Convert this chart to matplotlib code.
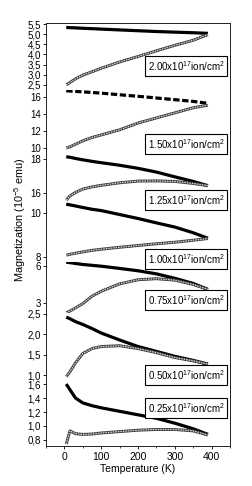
import matplotlib
matplotlib.use('Agg')
import matplotlib.pyplot as plt
from matplotlib.ticker import FuncFormatter, MultipleLocator
import numpy as np

plt.rcParams['font.family'] = ['Liberation Sans', 'DejaVu Sans']
plt.rcParams['mathtext.fontset'] = 'custom'
plt.rcParams['mathtext.rm'] = 'Liberation Sans'
plt.rcParams['mathtext.it'] = 'Liberation Sans:italic'

# temperature grid (K) where values were read
T = [5, 15, 30, 50, 75, 100, 150, 200, 250, 300, 350, 390]

doses = ['2.00', '1.50', '1.25', '1.00', '0.75', '0.50', '0.25']

# field cooled (solid) curves, 10^-5 emu
fc_200 = [5.33, 5.32, 5.31, 5.29, 5.27, 5.25, 5.21, 5.17, 5.13, 5.10, 5.07, 5.04]
fc_150 = [16.70, 16.67, 16.63, 16.57, 16.50, 16.42, 16.23, 16.05, 15.85, 15.65, 15.45, 15.22]
fc_125 = [18.15, 18.12, 18.05, 17.97, 17.88, 17.80, 17.65, 17.47, 17.25, 16.97, 16.70, 16.45]
fc_100 = [10.40, 10.37, 10.32, 10.25, 10.17, 10.11, 9.93, 9.75, 9.55, 9.36, 9.10, 8.85]
fc_075 = [6.30, 6.27, 6.20, 6.12, 6.05, 5.98, 5.80, 5.61, 5.36, 5.00, 4.58, 4.10]
fc_050 = [2.42, 2.38, 2.31, 2.24, 2.14, 2.03, 1.86, 1.70, 1.58, 1.46, 1.36, 1.27]
fc_025 = [1.60, 1.52, 1.40, 1.33, 1.29, 1.26, 1.21, 1.16, 1.11, 1.04, 0.96, 0.88]

# zero field cooled (hollow) curves
zfc_200 = [2.50, 2.62, 2.80, 2.98, 3.15, 3.32, 3.63, 3.90, 4.18, 4.45, 4.70, 4.98]
zfc_150 = [9.96, 10.1, 10.4, 10.8, 11.2, 11.5, 12.1, 12.9, 13.5, 14.1, 14.7, 15.0]
zfc_125 = [15.6, 15.85, 16.05, 16.25, 16.38, 16.47, 16.62, 16.72, 16.73, 16.70, 16.58, 16.45]
zfc_100 = [8.08, 8.12, 8.17, 8.23, 8.30, 8.35, 8.44, 8.52, 8.60, 8.67, 8.76, 8.84]
zfc_075 = [2.20, 2.35, 2.60, 2.95, 3.55, 3.95, 4.55, 4.88, 4.97, 4.85, 4.50, 4.10]
zfc_050 = [0.96, 1.08, 1.30, 1.53, 1.65, 1.70, 1.72, 1.65, 1.55, 1.43, 1.35, 1.27]
zfc_025 = [0.74, 0.93, 0.89, 0.88, 0.885, 0.90, 0.92, 0.94, 0.95, 0.95, 0.93, 0.87]

fc = [fc_200, fc_150, fc_125, fc_100, fc_075, fc_050, fc_025]
zfc = [zfc_200, zfc_150, zfc_125, zfc_100, zfc_075, zfc_050, zfc_025]

ylims = [(2.25, 5.55), (9.49, 16.79), (15.49, 18.43), (7.77, 10.5),
         (2.19, 6.32), (0.93, 2.52), (0.714, 1.686)]
yticks = [[2.5, 3.0, 3.5, 4.0, 4.5, 5.0, 5.5], [10, 12, 14, 16], [16, 18], [8, 10],
          [3, 6], [1.0, 1.5, 2.0, 2.5], [0.8, 1.0, 1.2, 1.4, 1.6]]
comma = [True, False, False, False, False, True, True]

# panel edges in pixels (top to bottom)
edges = [23, 90, 152, 202, 262, 313, 378, 446]
label_y = [66, 144, 200, 259, 300, 375, 408]

W, H = 253, 486
fig = plt.figure(figsize=(W / 100, H / 100), dpi=100)

axes = []
for i in range(7):
    t, b = edges[i], edges[i + 1]
    ax = fig.add_axes([46 / W, 1 - b / H, 184 / W, (b - t) / H])
    axes.append(ax)

    ax.plot(T, fc[i], color='black', lw=2.3,
            ls=(0, (2, 0.8)) if i == 1 else '-', solid_capstyle='butt')
    ax.plot(T, zfc[i], color='#3a3a3a', lw=2.1, solid_capstyle='butt')
    ax.plot(T, zfc[i], color='#dddddd', lw=0.9, ls=(0, (1.2, 0.8)))

    ax.set_xlim(-50, 450)
    ax.set_ylim(*ylims[i])
    ax.set_yticks(yticks[i])
    if comma[i]:
        ax.yaxis.set_major_formatter(FuncFormatter(lambda v, p: ('%.1f' % v).replace('.', ',')))
    else:
        ax.yaxis.set_major_formatter(FuncFormatter(lambda v, p: '%d' % v))
    ax.tick_params(axis='y', labelsize=7, length=2.5, width=0.6, pad=1, direction='out')
    for s in ax.spines.values():
        s.set_linewidth(0.7)
        s.set_color('#222222')
    if i > 0:
        ax.spines['top'].set_visible(False)
    if i < 6:
        ax.spines['bottom'].set_visible(False)
        ax.tick_params(axis='x', bottom=False, labelbottom=False)
    ax.patch.set_alpha(0)

    fig.text(186 / W, 1 - label_y[i] / H,
             doses[i] + r'x10$^{\mathregular{17}}$ion/cm$^{\mathregular{2}}$',
             fontsize=7, ha='center', va='center',
             bbox=dict(boxstyle='square,pad=0.3', fc='white', ec='black', lw=0.8))

axb = axes[-1]
axb.set_xticks([0, 100, 200, 300, 400])
axb.xaxis.set_minor_locator(MultipleLocator(50))
axb.tick_params(axis='x', labelsize=7.5, length=2.5, width=0.6, pad=2)
axb.tick_params(axis='x', which='minor', length=1.5, width=0.5)
axb.set_xlabel('Temperature (K)', fontsize=7.5, labelpad=1)

fig.text(20 / W, 1 - 220 / H, 'Magnetization (10$^{\\mathregular{-5}}$ emu)',
         rotation=90, fontsize=7.8, ha='center', va='center')

fig.savefig('out.png', dpi=100)
